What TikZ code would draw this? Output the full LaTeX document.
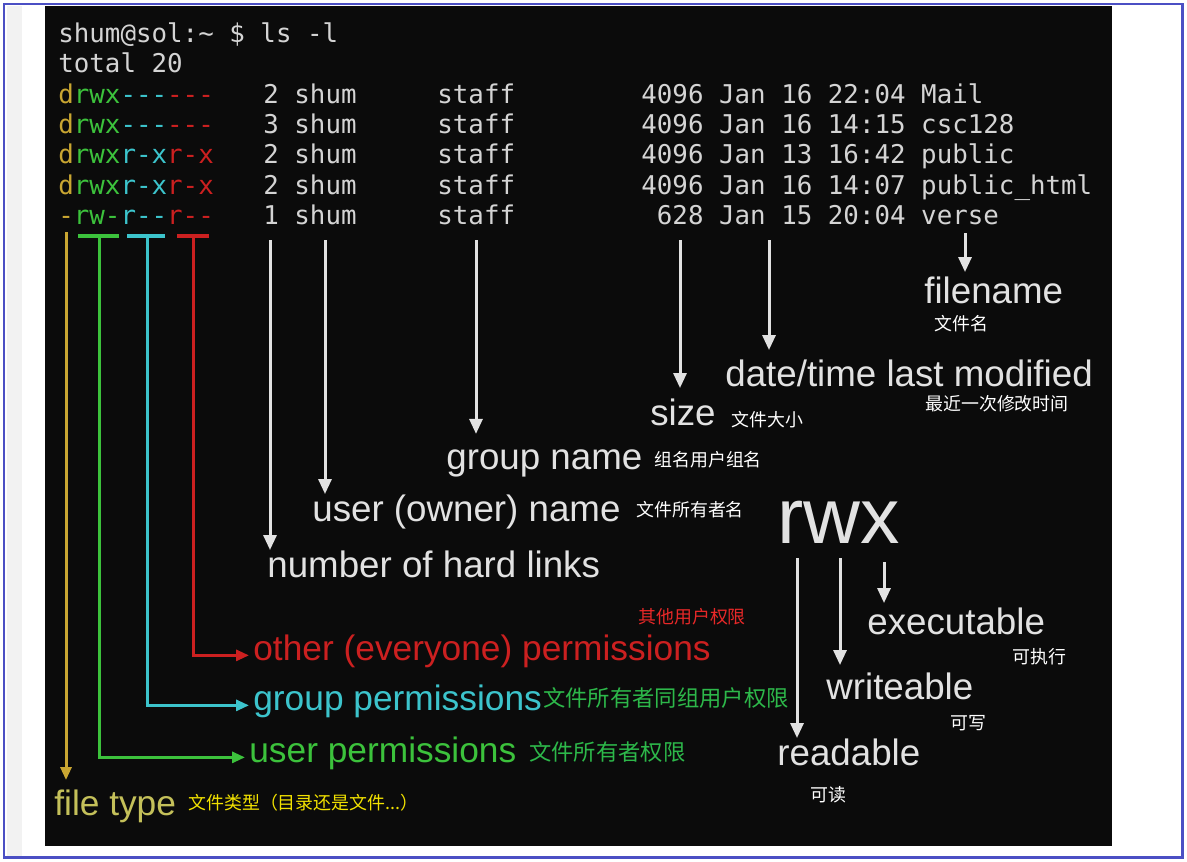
\documentclass[tikz,border=0pt]{standalone}
\usepackage{fontspec}
\setmainfont{Liberation Sans}
\setmonofont{DejaVu Sans Mono}
\newfontfamily\cjk{Noto Sans CJK SC}
\usetikzlibrary{arrows.meta}

\definecolor{frameblue}{HTML}{4B4FC4}
\definecolor{panel}{HTML}{0B0B0B}
\definecolor{term}{HTML}{D4D4D4}
\definecolor{lab}{HTML}{E2E2E2}
\definecolor{ptype}{HTML}{C9A632}
\definecolor{puser}{HTML}{3CC23C}
\definecolor{pgroup}{HTML}{3CC4CC}
\definecolor{pother}{HTML}{CC2020}
\definecolor{ftype}{HTML}{C4C05A}
\definecolor{cnred}{HTML}{E82828}
\definecolor{cngreen}{HTML}{2DB84A}
\definecolor{cnyellow}{HTML}{F2E200}

\newcommand{\permrow}[4]{\textcolor{ptype}{#1}\textcolor{puser}{#2}\textcolor{pgroup}{#3}\textcolor{pother}{#4}}

\begin{document}
\begin{tikzpicture}[x=0.02cm, y=-0.02cm,
    tt/.style={anchor=base west, inner sep=0, text=term, font=\fontsize{14.7}{16}\ttfamily},
    lbl/.style={anchor=base west, inner sep=0, text=lab, font=\fontsize{20.9}{24}\selectfont},
    plbl/.style={lbl, font=\fontsize{20.1}{24}\selectfont},
    cn/.style={anchor=west, inner sep=0, text=white, font=\fontsize{10.2}{12}\cjk},
    cnbig/.style={cn, font=\fontsize{12.7}{14}\cjk},
    warr/.style={draw=lab, line width=0.06cm, -{Triangle[length=0.3cm,width=0.26cm]}},
    parr/.style={line width=0.06cm, -{Triangle[length=0.26cm,width=0.22cm]}},
    tbar/.style={line width=0.08cm}]
        \useasboundingbox (0,0) rectangle (1187,862);

        % Background
        \fill[white] (0,0) rectangle (1187,862);
        \fill[black!5] (7,6) rectangle (22,856);
        \fill[panel] (45,6) rectangle (1112,846);
        \draw[frameblue, line width=0.06cm] (4,4) rectangle (1182,857);

        % Terminal
        \node[tt] (cmd) at (58,42) {shum@sol:\textasciitilde{} \$ ls -l};
        \node[tt] (tot) at (58,72) {total 20};
        \node[tt] (p1) at (58,103) {\permrow{d}{rwx}{---}{---}};
        \node[tt] (p2) at (58,133) {\permrow{d}{rwx}{---}{---}};
        \node[tt] (p3) at (58,163) {\permrow{d}{rwx}{r-x}{r-x}};
        \node[tt] (p4) at (58,194) {\permrow{d}{rwx}{r-x}{r-x}};
        \node[tt] (p5) at (58,224) {\permrow{-}{rw-}{r--}{r--}};
        \node[tt] (o1) at (263,103) {2 shum};
        \node[tt] (o2) at (263,133) {3 shum};
        \node[tt] (o3) at (263,163) {2 shum};
        \node[tt] (o4) at (263,194) {2 shum};
        \node[tt] (o5) at (263,224) {1 shum};
        \node[tt] (g1) at (437,103) {staff};
        \node[tt] (g2) at (437,133) {staff};
        \node[tt] (g3) at (437,163) {staff};
        \node[tt] (g4) at (437,194) {staff};
        \node[tt] (g5) at (437,224) {staff};
        \node[tt] (f1) at (641,103) {4096 Jan 16 22:04 Mail};
        \node[tt] (f2) at (641,133) {4096 Jan 16 14:15 csc128};
        \node[tt] (f3) at (641,163) {4096 Jan 13 16:42 public};
        \node[tt] (f4) at (641,194) {4096 Jan 16 14:07 public\_html};
        \node[tt] (f5) at (641,224) {\phantom{0}628 Jan 15 20:04 verse};

        % Labels
        \node[lbl] (fname) at (924,303) {filename};
        \node[cn] (cfname) at (934,324) {文件名};
        \node[lbl] (dtime) at (725,386) {date/time last modified};
        \node[cn] (cdtime) at (925,404) {最近一次修改时间};
        \node[lbl] (size) at (650,425) {size};
        \node[cn] (csize) at (731,420) {文件大小};
        \node[lbl] (grp) at (446,469) {group name};
        \node[cn] (cgrp) at (654,460) {组名用户组名};
        \node[lbl] (usr) at (312,521) {user (owner) name};
        \node[cn] (cusr) at (636,510) {文件所有者名};
        \node[lbl] (lnk) at (267,577) {number of hard links};
        \node[lbl, font=\fontsize{44.8}{50}\selectfont] (rwx) at (777,543) {rwx};
        \node[lbl] (exe) at (867,634) {executable};
        \node[cn] (cexe) at (1012,657) {可执行};
        \node[lbl] (wrt) at (826,699) {writeable};
        \node[cn] (cwrt) at (950,723) {可写};
        \node[lbl] (rd) at (777,765) {readable};
        \node[cn] (crd) at (810,795) {可读};
        \node[cn, text=cnred] (coth) at (638,617) {其他用户权限};
        \node[plbl, text=pother] (oth) at (253,660) {other (everyone) permissions};
        \node[plbl, text=pgroup] (gp) at (253,710) {group permissions};
        \node[cnbig, text=cngreen] (cgp) at (543,698) {文件所有者同组用户权限};
        \node[plbl, text=puser] (up) at (249,762) {user permissions};
        \node[cnbig, text=cngreen] (cup) at (529,752) {文件所有者权限};
        \node[plbl, text=ftype] (ft) at (54,815) {file type};
        \node[cn, text=cnyellow] (cft) at (188,803) {文件类型（目录还是文件...）};

        % Coordinates
        \coordinate (A) at (270,240);
        \coordinate (B) at (325,240);
        \coordinate (C) at (476,240);
        \coordinate (D) at (680,240);
        \coordinate (E) at (769,240);
        \coordinate (F) at (965,233);
        \coordinate (G) at (797,558);
        \coordinate (H) at (840,558);
        \coordinate (I) at (884,562);
        \coordinate (J) at (66,232);
        \coordinate (K) at (99,236);
        \coordinate (L) at (147,236);
        \coordinate (M) at (193,236);
        \coordinate (KL) at (78,236);
        \coordinate (KR) at (119,236);
        \coordinate (LL) at (127,236);
        \coordinate (LR) at (165,236);
        \coordinate (ML) at (177,236);
        \coordinate (MR) at (209,236);

        % Drawing
        \draw[warr] (A) -- (A |- lnk.north);
        \draw[warr] (B) -- (B |- usr.north);
        \draw[warr, shorten >=0.3cm] (C) -- (C |- grp.north);
        \draw[warr, shorten >=0.2cm] (D) -- (D |- size.north);
        \draw[warr, shorten >=0.18cm] (E) -- (E |- dtime.north);
        \draw[warr, shorten >=0.08cm] (F) -- (F |- fname.north);
        \draw[warr] (G) -- (G |- rd.north);
        \draw[warr, shorten >=0.14cm] (H) -- (H |- wrt.north);
        \draw[warr, shorten >=0.08cm] (I) -- (I |- exe.north);

        \draw[parr, ptype, shorten >=0.18cm] (J) -- (J |- ft.north);
        \draw[tbar, puser] (KL) -- (KR);
        \draw[parr, puser, shorten >=0.08cm] (K) -- (K |- up.mid west) -- (up.mid west);
        \draw[tbar, pgroup] (LL) -- (LR);
        \draw[parr, pgroup, shorten >=0.08cm] (L) -- (L |- gp.mid west) -- (gp.mid west);
        \draw[tbar, pother] (ML) -- (MR);
        \draw[parr, pother, shorten >=0.08cm] (M) -- (M |- oth.mid west) -- (oth.mid west);
    \end{tikzpicture}
\end{document}
